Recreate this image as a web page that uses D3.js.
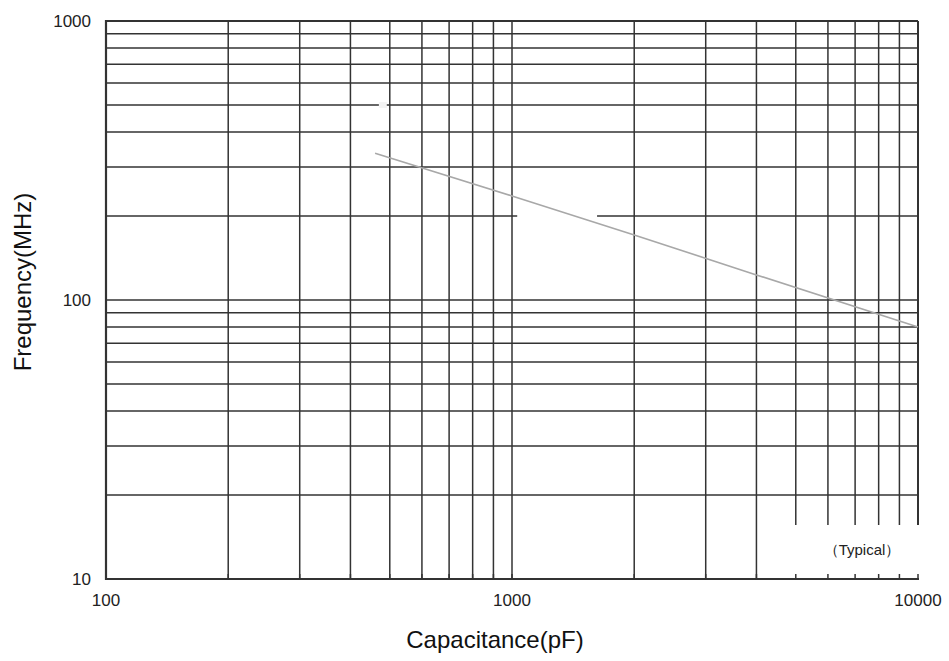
<!DOCTYPE html>
<html>
<head>
<meta charset="utf-8">
<script src="https://cdn.jsdelivr.net/npm/d3@7"></script>
<style>
html,body{margin:0;padding:0;background:#fff;}
svg{display:block;font-family:"Liberation Sans",Arial,sans-serif;}
</style>
</head>
<body>
<svg id="chart" width="949" height="661"></svg>
<script>
// Data
const capacitance = [460, 1000, 2000, 4000, 10000];   // pF
const frequency   = [336, 236, 171, 123, 80];          // MHz
const xTickLabels = [100, 1000, 10000];
const yTickLabels = [10, 100, 1000];
const xGridValues = [200,300,400,500,600,700,800,900,1000,2000,3000,4000,5000,6000,7000,8000,9000,10000];
const yGridValues = [20,30,40,50,60,70,80,90,100,200,300,400,500,600,700,800,900,1000];
const xTitle = "Capacitance(pF)";
const yTitle = "Frequency(MHz)";
const note = "（Typical）";

const svg = d3.select("#chart");
const m = {left:106, right:918, top:21, bottom:579};
const x = d3.scaleLog().domain([100,10000]).range([m.left, m.right]);
const y = d3.scaleLog().domain([10,1000]).range([m.bottom, m.top]);

const gridColor = "#333";
const g = svg.append("g");

// horizontal grid
g.selectAll("line.h").data(yGridValues).join("line")
  .attr("x1", m.left).attr("x2", m.right)
  .attr("y1", d=>y(d)).attr("y2", d=>y(d))
  .attr("stroke", gridColor).attr("stroke-width", 1.5);

// vertical grid (those >=5000 stop above the note box)
g.selectAll("line.v").data(xGridValues).join("line")
  .attr("x1", d=>x(d)).attr("x2", d=>x(d))
  .attr("y1", m.top).attr("y2", d=> d>=5000 ? 525 : m.bottom)
  .attr("stroke", gridColor).attr("stroke-width", d=> d===10000 ? 2 : 1.5);

// small artifacts (label masks)
g.append("rect").attr("x", x(1030)).attr("y", y(200)-3).attr("width", x(1620)-x(1030)).attr("height", 6).attr("fill","#fff");
g.append("rect").attr("x", x(470)).attr("y", y(500)-3).attr("width", x(500)-x(470)-3).attr("height", 6).attr("fill","#f4f4f4");

// axes frame (left, top, bottom)
g.append("line").attr("x1", m.left).attr("x2", m.left).attr("y1", m.top-1).attr("y2", m.bottom+1)
  .attr("stroke", "#333").attr("stroke-width", 2.2);
g.append("line").attr("x1", m.left).attr("x2", m.right).attr("y1", m.top).attr("y2", m.top)
  .attr("stroke", "#333").attr("stroke-width", 2.2);
g.append("line").attr("x1", m.left).attr("x2", m.right+1).attr("y1", m.bottom).attr("y2", m.bottom)
  .attr("stroke", "#333").attr("stroke-width", 2.2);

// bottom minor ticks
g.selectAll("line.bt").data(xGridValues).join("line")
  .attr("x1", d=>x(d)).attr("x2", d=>x(d))
  .attr("y1", m.bottom-5).attr("y2", m.bottom)
  .attr("stroke", "#333").attr("stroke-width", 1.5);

// curve
const line = d3.line().x((d,i)=>x(capacitance[i])).y(d=>y(d));
g.append("path").datum(frequency).attr("d", line)
  .attr("fill","none").attr("stroke","#a8a8a8").attr("stroke-width",1.6);

// tick labels
svg.selectAll("text.yt").data(yTickLabels).join("text")
  .attr("x", 91).attr("y", d=>y(d)).attr("dy","0.35em")
  .attr("text-anchor","end").attr("font-size", 17).attr("fill","#222")
  .text(d=>d);
svg.selectAll("text.xt").data(xTickLabels).join("text")
  .attr("x", d=>x(d)).attr("y", 606)
  .attr("text-anchor","middle").attr("font-size", 17).attr("fill","#222")
  .text(d=>d);

// titles
svg.append("text").attr("x", 495).attr("y", 648).attr("text-anchor","middle")
  .attr("font-size", 24).attr("fill","#111").text(xTitle);
svg.append("text").attr("transform","translate(31,282) rotate(-90)").attr("text-anchor","middle")
  .attr("font-size", 24).attr("fill","#111").text(yTitle);

// note
svg.append("text").attr("x", 862).attr("y", 555).attr("text-anchor","middle")
  .attr("font-size", 15).attr("fill","#222").text(note);
</script>
</body>
</html>
